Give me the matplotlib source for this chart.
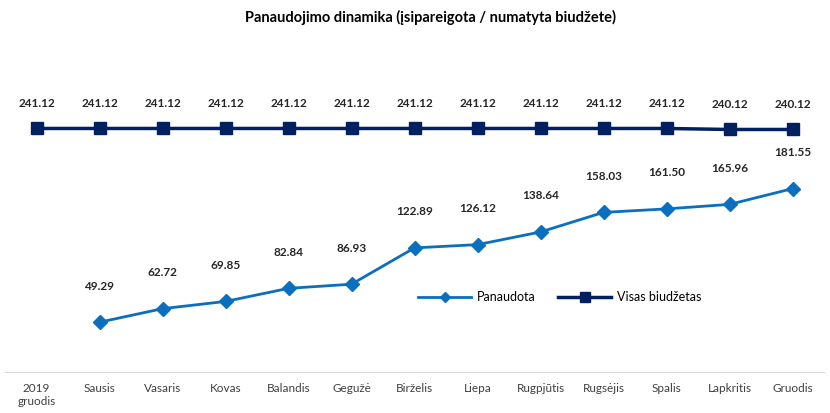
import matplotlib
matplotlib.use('Agg')
from matplotlib import pyplot as plt

plt.rcParams['font.family'] = ['Lato', 'DejaVu Sans']

# Category labels (months)
months = ['2019\ngruodis', 'Sausis', 'Vasaris', 'Kovas', 'Balandis', 'Gegužė',
          'Birželis', 'Liepa', 'Rugpjūtis', 'Rugsėjis', 'Spalis', 'Lapkritis',
          'Gruodis']

# Used budget (starts at Sausis)
used = [None, 49.29, 62.72, 69.85, 82.84, 86.93, 122.89, 126.12, 138.64,
        158.03, 161.50, 165.96, 181.55]

# Whole budget
total = [241.12, 241.12, 241.12, 241.12, 241.12, 241.12, 241.12, 241.12,
         241.12, 241.12, 241.12, 240.12, 240.12]

x = list(range(len(months)))
ux = [i for i, v in zip(x, used) if v is not None]
uy = [v for v in used if v is not None]

fig = plt.figure(figsize=(8.3, 4.13), dpi=100)
ax = fig.add_axes([5 / 830, 1 - 372 / 413, 819 / 830, 303 / 413])

c_used = '#0B6FC0'
c_total = '#002060'

ax.plot(ux, uy, color=c_used, lw=2, marker='D', ms=7, label='Panaudota')
ax.plot(x, total, color=c_total, lw=2.5, marker='s', ms=9, label='Visas biudžetas')

for i, v in zip(ux, uy):
    ax.annotate('{:.2f}'.format(v), (i, v), xytext=(0, 22),
                textcoords='offset points', ha='center', va='bottom',
                fontsize=8.5, fontweight='bold', color='#262626')
for i, v in zip(x, total):
    ax.annotate('{:.2f}'.format(v), (i, v), xytext=(0, 14),
                textcoords='offset points', ha='center', va='bottom',
                fontsize=8.5, fontweight='bold', color='#262626')

ax.set_xlim(-0.5, len(months) - 0.5)
ax.set_ylim(0, 300)
ax.set_xticks(x)
ax.set_xticklabels(months, fontsize=8.5, color='#404040', va='top')
ax.tick_params(axis='x', length=0, pad=8)
ax.set_yticks([])
for s in ['top', 'right', 'left']:
    ax.spines[s].set_visible(False)
ax.spines['bottom'].set_color('#D9D9D9')

fig.suptitle('Panaudojimo dinamika (įsipareigota / numatyta biudžete)',
             x=430 / 830, y=0.975, fontsize=10.5, fontweight='bold',
             color='#000000')

ax.legend(loc='center', bbox_to_anchor=(560 / 830, 1 - 297 / 413),
          bbox_transform=fig.transFigure, ncol=2, frameon=False,
          fontsize=9, handlelength=4.2, columnspacing=1.8, markerscale=0.75,
          handletextpad=0.5)

plt.savefig('out.png', dpi=100)
